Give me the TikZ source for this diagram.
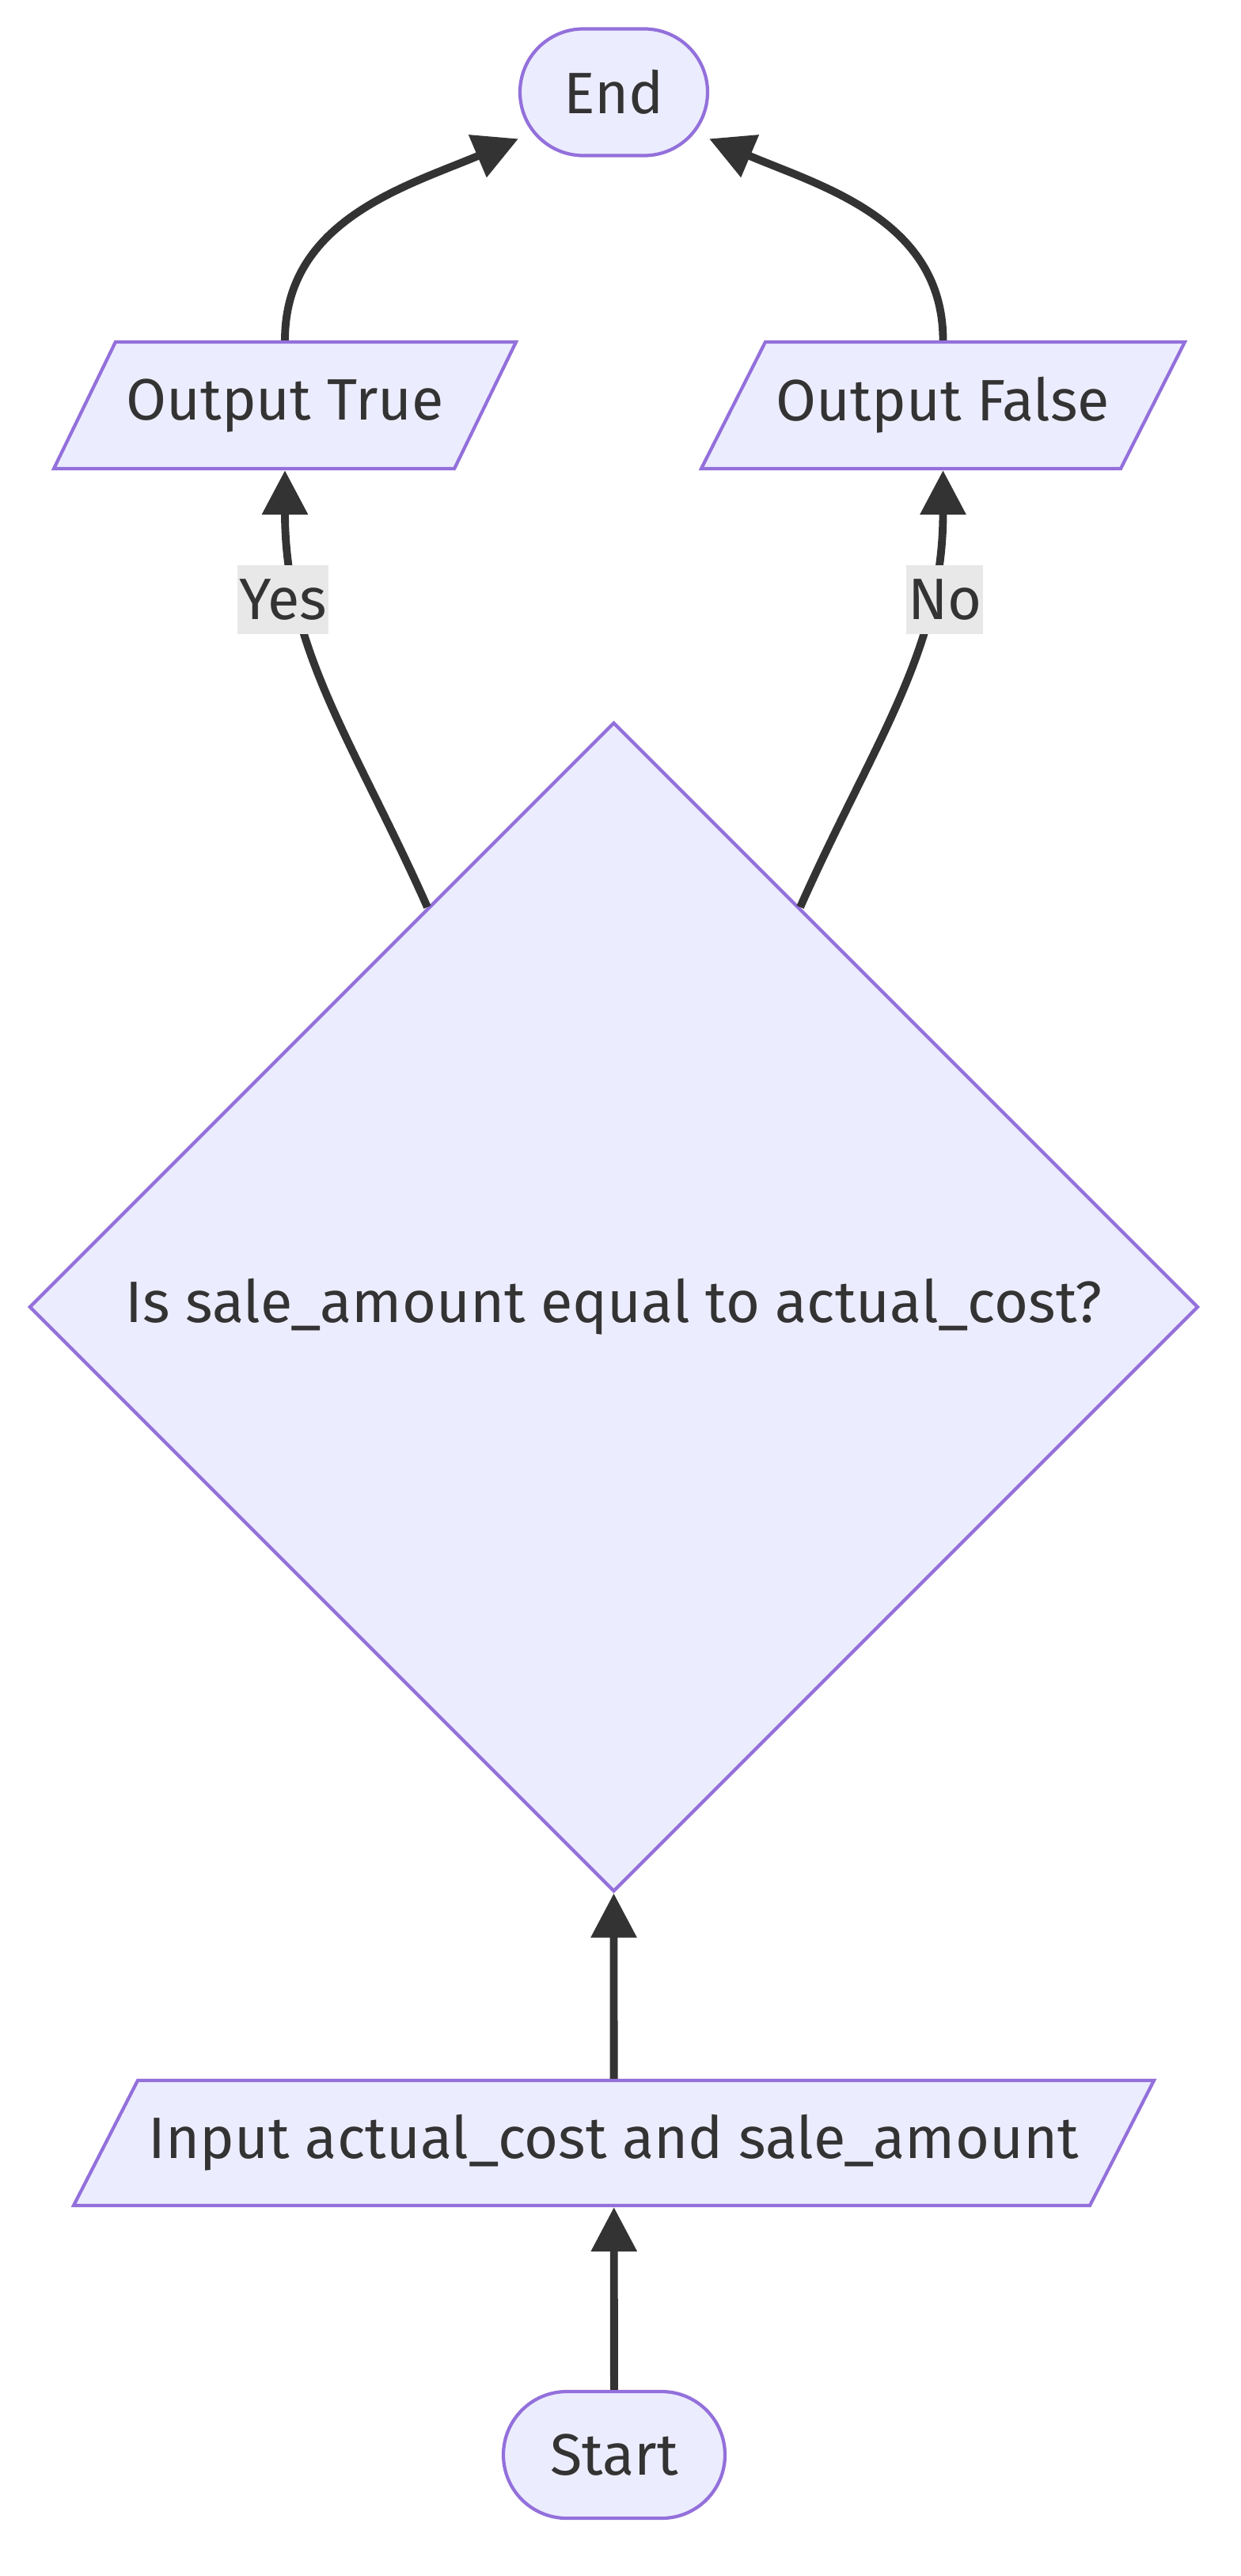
\documentclass[tikz,border=0pt]{standalone}
\usepackage{fontspec}
\setmainfont{Fira Sans}
\usetikzlibrary{arrows.meta,positioning,shapes.geometric}
\definecolor{nodeFill}{HTML}{ECECFF}
\definecolor{nodeLine}{HTML}{9370DB}
\definecolor{edgeLine}{HTML}{333333}
\definecolor{edgeLbl}{HTML}{E8E8E8}
\tikzset{
    every node/.append style={align=center,text=edgeLine},
    term/.style={rectangle,draw=nodeLine,fill=nodeFill,line width=1.2pt,rounded corners=8mm,
        minimum height=1.6cm},
    io/.style={trapezium,trapezium stretches body,trapezium left angle=49.4,
        trapezium right angle=130.6,draw=nodeLine,fill=nodeFill,line width=1.2pt,minimum height=1.6cm},
    gate/.style={diamond,aspect=1,draw=nodeLine,fill=nodeFill,line width=1.2pt},
    arr/.style={-{Triangle[length=5.6mm,width=5.6mm]},line width=2.8pt,draw=edgeLine},
    lbl/.style={fill=edgeLbl,inner sep=0.5pt,minimum height=8.7mm}
}

\begin{document}
\begin{tikzpicture}[every node/.append style={font=\fontsize{21}{25}\selectfont}]
    \useasboundingbox (0,0) rectangle (15.68,-32.54);
    % nodes, top to bottom
    \node[term,minimum width=2.37cm]  (end)    at (7.755,-1.165) {End};
    \node[io,minimum width=5.84cm]    (outT)   at (3.60,-5.12)   {Output True};
    \node[io,minimum width=6.11cm]    (outF)   at (11.915,-5.12) {Output False};
    \node[gate,minimum size=14.77cm]  (check)  at (7.755,-16.51) {Is sale\_amount equal to actual\_cost?};
    \node[io,minimum width=13.65cm,minimum height=1.58cm] (input) at (7.755,-27.07) {Input actual\_cost and sale\_amount};
    \node[term,minimum width=2.80cm]  (start)  at (7.76,-31.01)  {Start};

    \draw[arr] (start) -- (input);
    \draw[arr] (input) -- (check);
    \draw[arr] (check.115) to[out=114,in=-90] node[lbl,pos=0.73,xshift=-2mm]{Yes} (outT.270);
    \draw[arr] (check.65) to[out=66,in=-90] node[lbl,pos=0.73,xshift=2mm]{No} (outF.270);
    \draw[arr] (outT.90) to[out=90,in=203] (end.206);
    \draw[arr] (outF.90) to[out=90,in=-23] (end.334);
\end{tikzpicture}
\end{document}
